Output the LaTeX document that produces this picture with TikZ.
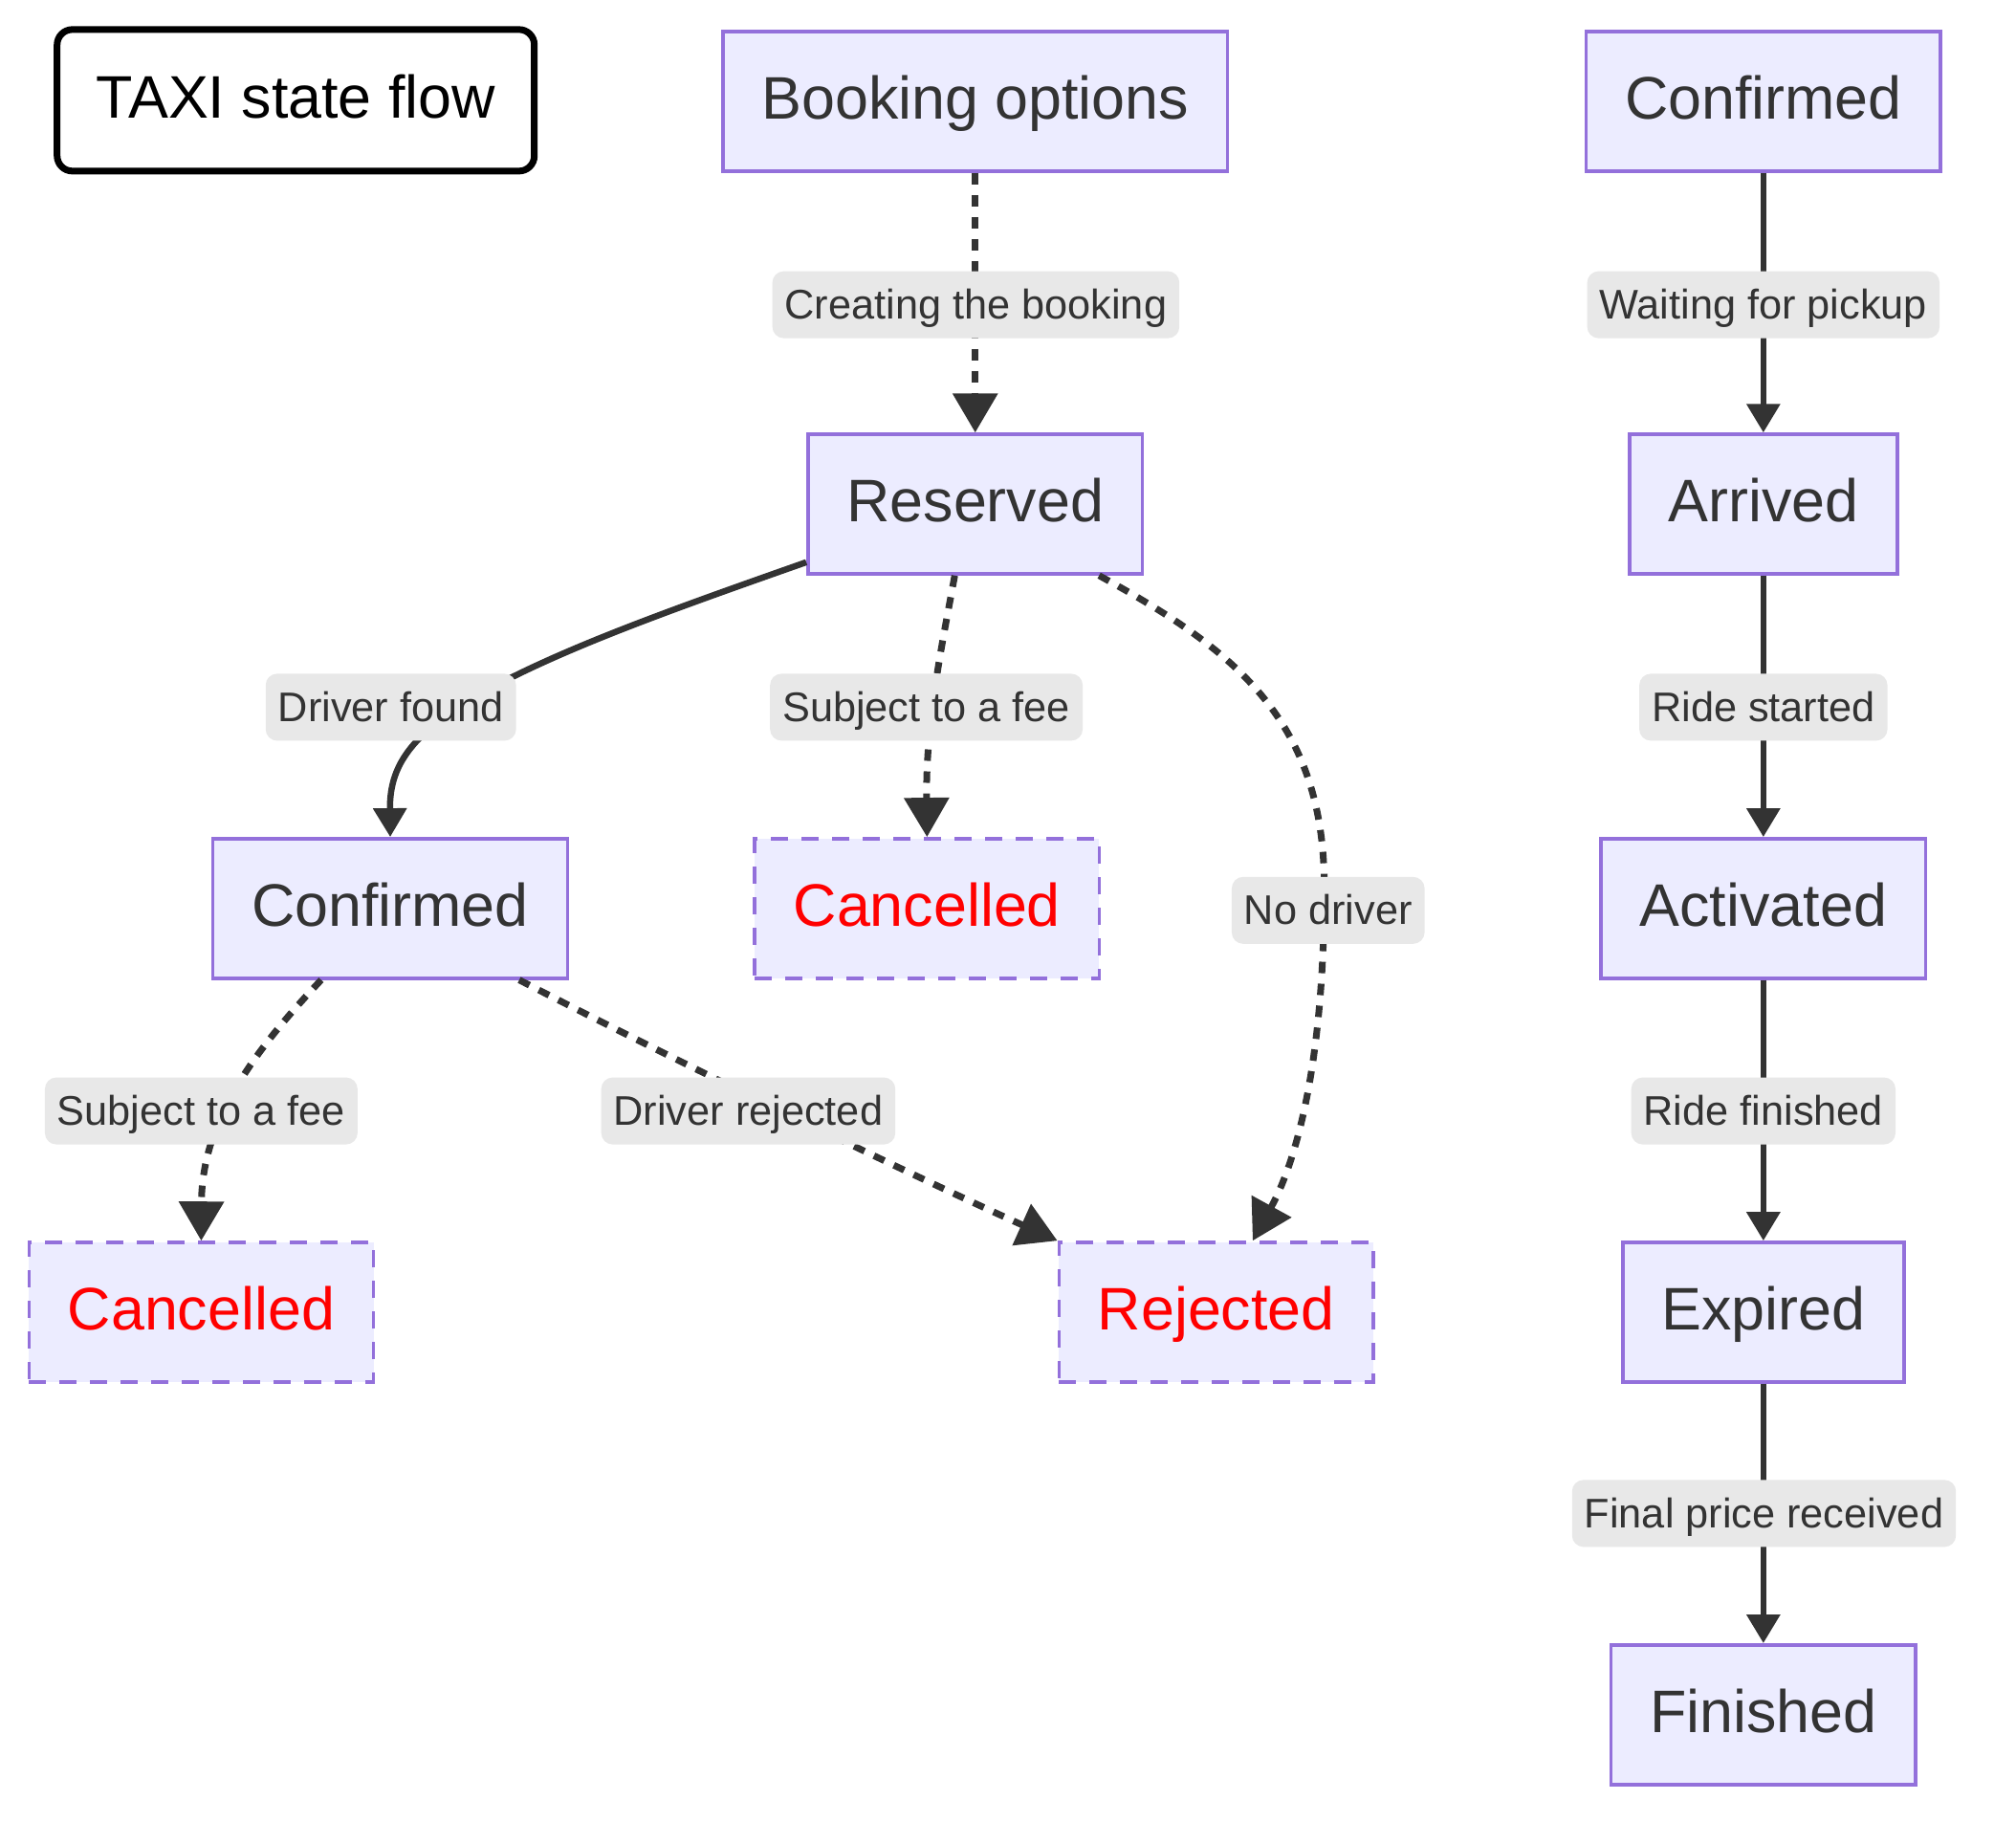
\documentclass[tikz,border=0pt]{standalone}
\usepackage{fontspec}
\setmainfont{Liberation Sans}
\usetikzlibrary{arrows.meta,calc}
\definecolor{nodefill}{HTML}{ECECFF}
\definecolor{nodeborder}{HTML}{9370DB}
\definecolor{edgecol}{HTML}{333333}
\definecolor{labelbg}{HTML}{E8E8E8}
\definecolor{txtcol}{HTML}{333333}
\begin{document}
\begin{tikzpicture}[x=1.3444pt,y=-1.3444pt,
  state/.style={draw=nodeborder, fill=nodefill, line width=3.5pt, text=txtcol,
    font=\fontsize{62.8}{74}\selectfont, inner xsep=40.5pt, inner ysep=0pt,
    text height=49pt, text depth=11.6pt, minimum height=146pt},
  finalstate/.style={state, dash pattern=on 18pt off 14pt, text=red},
  elabel/.style={fill=labelbg, text=txtcol, font=\fontsize{43.3}{52}\selectfont,
    inner xsep=13pt, inner ysep=0pt, text height=35pt, text depth=5.6pt,
    minimum height=70pt, rounded corners=12pt},
  solidedge/.style={draw=edgecol, line width=6.5pt, -{Triangle[length=30pt,width=34pt]}},
  dotedge/.style={draw=edgecol, line width=7pt, dash pattern=on 12pt off 11pt,
    -{Triangle[length=41pt,width=46pt]}},
  titlebox/.style={draw=black, fill=white, line width=7pt, rounded corners=16pt,
    minimum width=499pt, minimum height=148pt, inner sep=0pt,
    font=\fontsize{62.8}{74}\selectfont, text=black, text height=49pt, text depth=11.6pt}
]
\fill[white] (0,0) rectangle (1568,1434.1);
\useasboundingbox (0,0) rectangle (1568,1434.1);

% nodes
\node[titlebox] (title) at (230,78) {TAXI state flow};
\node[state] (book) at (758.5,79) {Booking options};
\node[state] (res) at (758.5,392) {Reserved};
\node[state] (confL) at (303.5,706.5) {Confirmed};
\node[finalstate] (canM) at (721,706.5) {Cancelled};
\node[finalstate] (canL) at (156.5,1020.5) {Cancelled};
\node[finalstate] (rej) at (946,1020.5) {Rejected};
\node[state] (confR) at (1371.5,79) {Confirmed};
\node[state] (arr) at (1371.5,392) {Arrived};
\node[state] (act) at (1371.5,706.5) {Activated};
\node[state] (expd) at (1371.5,1020.5) {Expired};
\node[state] (fin) at (1371.5,1333.5) {Finished};

% edges
\draw[dotedge] (book) -- (res);
\draw[solidedge] (res.199) .. controls (520,475) and (420,510) .. (358,549)
   .. controls (315,577) and (303,600) .. (confL.north);
\draw[dotedge] (res.254) .. controls (733,500) and (720,560) .. (canM.north);
\draw[dotedge] (res.-30) .. controls (960,505) and (1030,560) .. (1030,690)
   .. controls (1030,820) and (1010,900) .. (rej.63);
\draw[dotedge] (confL.226) .. controls (200,815) and (157,870) .. (canL.north);
\draw[dotedge] (confL.-29.4) .. controls (520,822) and (700,910) .. (rej.north west);
\draw[solidedge] (confR) -- (arr);
\draw[solidedge] (arr) -- (act);
\draw[solidedge] (act) -- (expd);
\draw[solidedge] (expd) -- (fin);

% edge labels
\node[elabel] (lCreate) at (759,237) {Creating the booking};
\node[elabel] (lWait) at (1371.5,237) {Waiting for pickup};
\node[elabel] (lFound) at (304,550) {Driver found};
\node[elabel] (lFeeM) at (720.5,550) {Subject to a fee};
\node[elabel] (lStart) at (1371.5,550) {Ride started};
\node[elabel] (lNo) at (1033,708) {No driver};
\node[elabel] (lFeeL) at (156.5,864) {Subject to a fee};
\node[elabel] (lRej) at (582,864) {Driver rejected};
\node[elabel] (lFin) at (1371.5,864) {Ride finished};
\node[elabel] (lPrice) at (1372,1177) {Final price received};
\end{tikzpicture}
\end{document}
